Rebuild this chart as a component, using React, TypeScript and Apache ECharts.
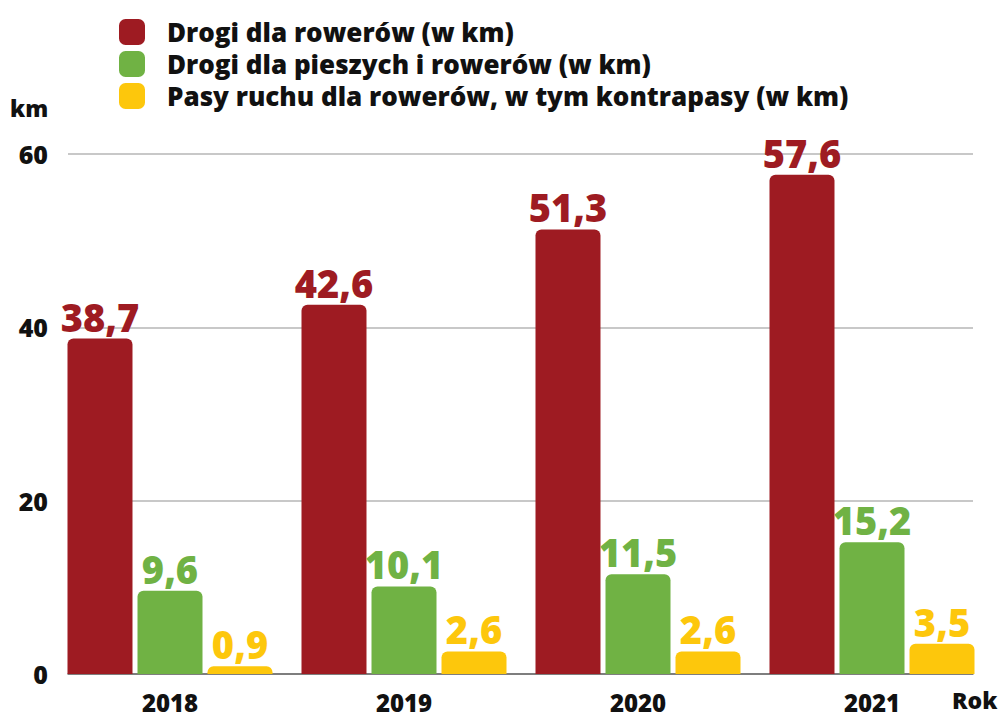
import React, { useEffect, useRef } from "react";
import * as echarts from "echarts";

const years = ["2018", "2019", "2020", "2021"];
const drogiRowerowe = [38.7, 42.6, 51.3, 57.6];
const drogiPieszoRowerowe = [9.6, 10.1, 11.5, 15.2];
const pasyRuchu = [0.9, 2.6, 2.6, 3.5];
const seriesNames = [
  "Drogi dla rowerów (w km)",
  "Drogi dla pieszych i rowerów (w km)",
  "Pasy ruchu dla rowerów, w tym kontrapasy (w km)",
];
const colors = ["#9e1b22", "#70b244", "#fdc70c"];

const FONT = "'Open Sans', sans-serif";
const W = 800;

export default function App() {
  const ref = useRef<HTMLDivElement>(null);
  useEffect(() => {
    if (!ref.current) return;
    const chart = echarts.init(ref.current, undefined, { renderer: "svg" });
    const fmt = (p: any) => String(p.value).replace(".", ",");
    const mk = (i: number, data: number[]) => ({
      name: seriesNames[i],
      type: "bar",
      xAxisIndex: 1,
      yAxisIndex: 1,
      data,
      barWidth: 65,
      barGap: "7.7%",
      itemStyle: { color: colors[i], borderRadius: [6, 6, 0, 0] },
      label: {
        show: true,
        position: "top",
        distance: 3,
        formatter: fmt,
        color: colors[i],
        fontFamily: FONT,
        fontWeight: W,
        fontSize: 38,
      },
    });
    chart.setOption({
      animation: false,
      textStyle: { fontFamily: FONT },
      legend: {
        orient: "vertical",
        left: 114,
        top: 13,
        itemWidth: 26,
        itemHeight: 26,
        itemGap: 4,
        icon: "roundRect",
        data: seriesNames,
        selectedMode: false,
        textStyle: {
          fontFamily: FONT,
          fontWeight: W,
          fontSize: 26,
          lineHeight: 28,
          color: "#111",
          padding: [0, 0, 0, 17],
        },
      },
      grid: [
        { left: 68, right: 29, top: 154, height: 520 },
        { left: 53, right: 13, top: 154, height: 520 },
      ],
      xAxis: [
        {
          type: "category",
          gridIndex: 0,
          data: years,
          axisLine: { show: true, lineStyle: { color: "#666", width: 1.5 } },
          axisTick: { show: false },
          axisLabel: { show: false },
          splitLine: { show: false },
        },
        {
          type: "category",
          gridIndex: 1,
          data: years,
          axisLine: { show: false },
          axisTick: { show: false },
          axisLabel: {
            margin: 15,
            fontFamily: FONT,
            fontWeight: W,
            fontSize: 24,
            lineHeight: 26,
            color: "#111",
          },
        },
      ],
      yAxis: [
        {
          type: "value",
          gridIndex: 0,
          min: 0,
          max: 60,
          interval: 20,
          axisLine: { show: false },
          axisTick: { show: false },
          axisLabel: {
            margin: 20,
            fontFamily: FONT,
            fontWeight: W,
            fontSize: 25,
            color: "#111",
          },
          splitLine: { show: true, lineStyle: { color: "#c8c8c8", width: 2 } },
        },
        {
          type: "value",
          gridIndex: 1,
          min: 0,
          max: 60,
          interval: 20,
          show: false,
          splitLine: { show: false },
        },
      ],
      graphic: [
        {
          type: "text",
          left: 10,
          top: 96,
          style: { text: "km", fontFamily: FONT, fontWeight: W, fontSize: 23, fill: "#111" },
        },
        {
          type: "text",
          left: 952,
          top: 688,
          style: { text: "Rok", fontFamily: FONT, fontWeight: W, fontSize: 23, fill: "#111" },
        },
      ],
      series: [
        mk(0, drogiRowerowe),
        mk(1, drogiPieszoRowerowe),
        mk(2, pasyRuchu),
      ],
    });
    return () => chart.dispose();
  }, []);
  return (
    <div
      ref={ref}
      style={{ position: "fixed", left: 0, top: 0, width: 1002, height: 716, background: "#fff" }}
    />
  );
}
